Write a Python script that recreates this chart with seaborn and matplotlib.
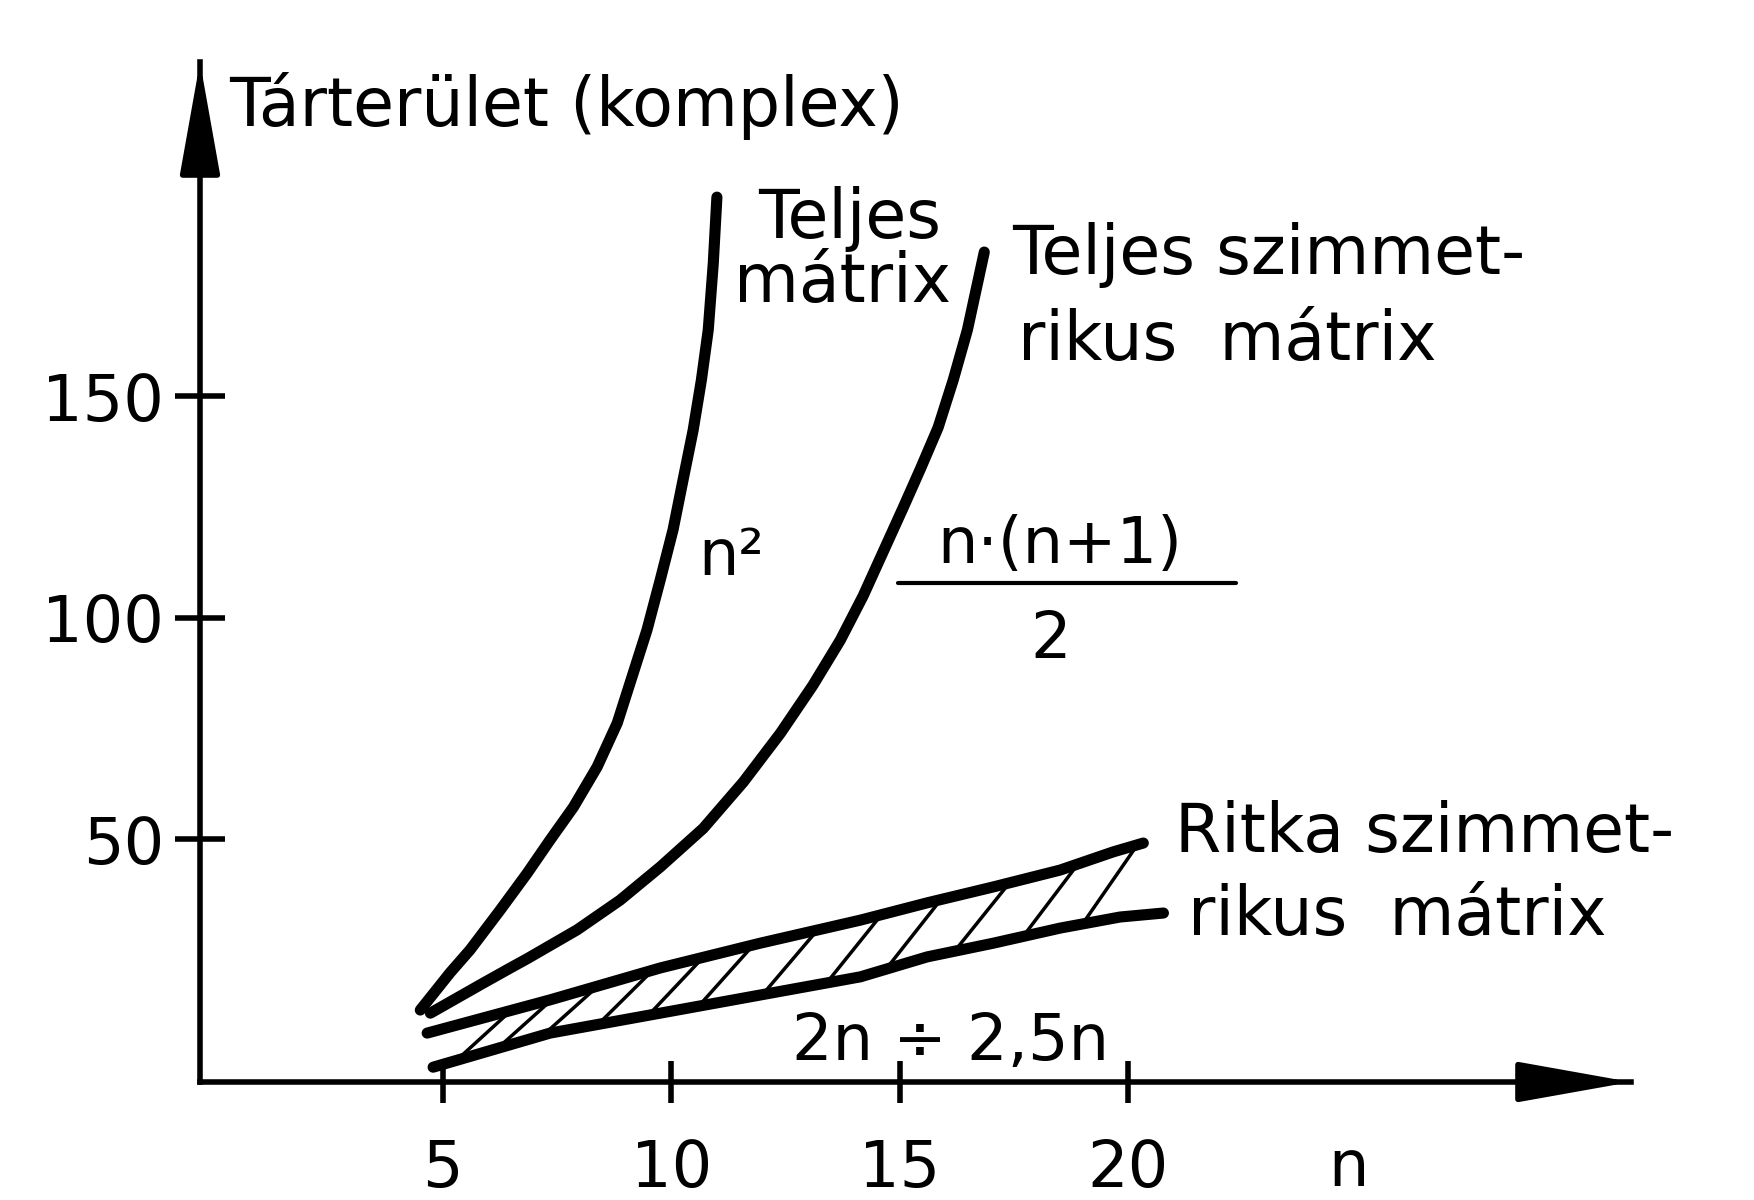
import numpy as np
import matplotlib
matplotlib.use('Agg')
import matplotlib.pyplot as plt
import seaborn as sns
from matplotlib.lines import Line2D

# Teljes matrix (n^2)
full_n = [4.51, 5.16, 5.6, 6.26, 6.85, 7.35, 7.86, 8.38, 8.82, 9.17, 9.47, 9.76,
          10.04, 10.26, 10.48, 10.66, 10.81, 10.92, 11.0]
full_v = [11.5, 19.9, 25.1, 34.1, 42.4, 49.9, 57.3, 66.4, 76.3, 87.6, 97.3, 108.6,
          119.9, 131.2, 142.4, 153.7, 165, 180, 195]

# Teljes szimmetrikus matrix (n(n+1)/2)
sym_n = [4.73, 5.89, 6.48, 6.85, 7.94, 8.88, 9.76, 10.7, 11.58, 12.39, 13.1, 13.7,
         14.2, 14.64, 15.08, 15.45, 15.84, 16.17, 16.48, 16.85]
sym_v = [10.8, 17.6, 21, 23.1, 29.6, 36.3, 43.8, 52.5, 63.0, 74, 84.8, 95,
         105, 115, 125, 133.6, 143, 153.7, 165, 182.6]

# Ritka szimmetrikus matrix (2n - 2,5n savja)
sparse_hi_n = [4.66, 7.35, 9.76, 11.95, 14.14, 15.6, 17.05, 18.51, 19.67, 20.33]
sparse_hi_v = [6.3, 13.8, 21, 26.6, 31.8, 35.7, 39.3, 43.1, 47.2, 49.2]
sparse_lo_n = [4.79, 7.35, 9.76, 11.95, 14.14, 15.6, 17.05, 18.51, 19.82, 20.77]
sparse_lo_v = [-1.4, 6.3, 10.8, 14.9, 19.0, 23.5, 26.6, 30.0, 32.5, 33.4]
hatch_n = [5.3, 6.2, 7.2, 8.4, 9.5, 10.6, 12.0, 13.4, 14.7, 16.2, 17.7, 19.0]

x_ticks = [5, 10, 15, 20]
y_ticks = [50, 100, 150]

sns.set_theme(style='white')
plt.rcParams['font.family'] = ['DejaVu Sans']

W, H = 1754, 1200
fig = plt.figure(figsize=(W / 100, H / 100), dpi=100)
fig.patch.set_facecolor('white')
ax = fig.add_axes([200 / W, 1 - 1082 / H, (1631 - 200) / W, (1082 - 62) / H])
ax.set_facecolor('white')

ax.set_xlim(-0.31, 31.0)
ax.set_ylim(-4.74, 225.5)

lw_curve = 8
for xs, ys in [(full_n, full_v), (sym_n, sym_v), (sparse_hi_n, sparse_hi_v), (sparse_lo_n, sparse_lo_v)]:
    sns.lineplot(x=xs, y=ys, ax=ax, color='black', linewidth=lw_curve, sort=False, estimator=None)
for l in ax.lines:
    l.set_solid_capstyle('round')
    l.set_solid_joinstyle('round')

# ferde vonalkazas a ket egyenes kozott
slant = 1.2
for h in hatch_n:
    y0 = np.interp(h, sparse_lo_n, sparse_lo_v)
    y1 = np.interp(h + slant, sparse_hi_n, sparse_hi_v)
    ax.plot([h, h + slant], [y0, y1], color='black', linewidth=2.5)

# tengelyek
for s in ['top', 'right']:
    ax.spines[s].set_visible(False)
for s in ['left', 'bottom']:
    ax.spines[s].set_color('black')
    ax.spines[s].set_linewidth(4)

ax.set_xticks(x_ticks)
ax.set_yticks(y_ticks)
ax.tick_params(axis='both', direction='inout', width=4, color='black',
               labelsize=46, labelcolor='black', bottom=True, left=True)
ax.tick_params(axis='x', length=30, pad=25)
ax.tick_params(axis='y', length=36, pad=8)
ax.grid(False)

arrow = dict(arrowstyle='-|>,head_length=1.4,head_width=0.25', mutation_scale=50,
             color='black', lw=4, shrinkA=0, shrinkB=0)
ax.annotate('', xy=(0, 1), xytext=(0, 0.9), xycoords='axes fraction', arrowprops=arrow)
ax.annotate('', xy=(1, 0), xytext=(0.94, 0), xycoords='axes fraction', arrowprops=arrow)


def put(s, x, y, size=48, **kw):
    fig.text(x / W, 1 - y / H, s, fontsize=size, color='black', va='baseline', **kw)


put('Tárterület (komplex)', 229, 126)
put('Teljes', 850, 238, ha='center')
put('mátrix', 842, 302, ha='center')
put('Teljes szimmet-', 1012, 274)
put('rikus  mátrix', 1018, 360)
put('n²', 698, 575, size=46)
put('n·(n+1)', 1060, 563, size=46, ha='center')
fig.add_artist(Line2D([898 / W, 1236 / W], [1 - 583 / H, 1 - 583 / H], color='black', linewidth=3))
put('2', 1051, 658, size=46, ha='center')
put('Ritka szimmet-', 1175, 852)
put('rikus  mátrix', 1188, 935)
put('2n ÷ 2,5n', 792, 1060, size=46)
put('n', 1348, 1186, size=46, ha='center')

fig.savefig('out.png', dpi=100, facecolor='white')
